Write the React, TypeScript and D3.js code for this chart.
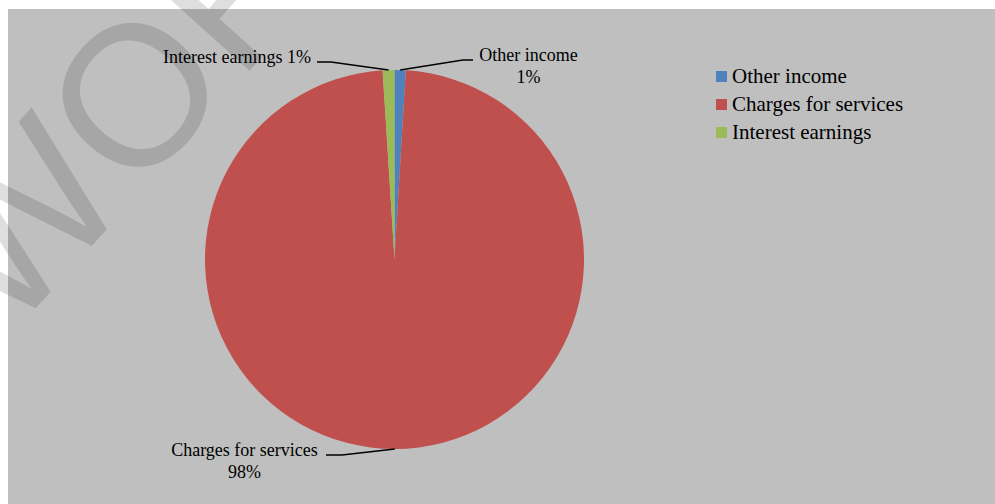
import { useEffect, useRef } from "react";
import * as d3 from "d3";

// data
const categories = ["Other income", "Charges for services", "Interest earnings"];
const shares = [0.95, 98.05, 1.0];
const colors = ["#4f81bd", "#c0504d", "#9bbb59"];
const watermark = "WORK";

// where each data label sits (page px): text anchor, line baselines, leader elbow + end
const labelLayout = [
    { x: 528.5, y: 61, anchor: "middle", twoLines: true, elbow: [463, 60], end: [473, 60] },
    { x: 244.5, y: 456, anchor: "middle", twoLines: true, elbow: [342, 455], end: [326, 455] },
    { x: 311, y: 63, anchor: "end", twoLines: false, elbow: [331, 62], end: [317, 62] },
];

const serif = "'Liberation Serif', 'Times New Roman', serif";

export default function App() {
    const ref = useRef<SVGSVGElement>(null);

    useEffect(() => {
        const width = 995;
        const height = 504;
        const svg = d3.select(ref.current);
        svg.selectAll("*").remove();

        svg.append("rect")
            .attr("x", 8)
            .attr("y", 9)
            .attr("width", width - 8)
            .attr("height", height - 9)
            .attr("fill", "#bfbfbf");

        const cx = 394.5;
        const cy = 259.5;
        const radius = 189.5;
        const total = d3.sum(shares);
        const pct = d3.format(".0%");

        const pie = d3.pie<number>().sort(null).value(d => d);
        const arcs = pie(shares);
        const arc = d3.arc<d3.PieArcDatum<number>>().innerRadius(0).outerRadius(radius);

        const g = svg.append("g").attr("transform", `translate(${cx},${cy})`);
        g.selectAll("path")
            .data(arcs)
            .join("path")
            .attr("d", arc)
            .attr("fill", (d, i) => colors[i]);

        // leader lines + labels
        arcs.forEach((d, i) => {
            const L = labelLayout[i];
            const mid = (d.startAngle + d.endAngle) / 2;
            const start: [number, number] = [cx + Math.sin(mid) * radius, cy - Math.cos(mid) * radius];
            svg.append("path")
                .attr("d", d3.line()([start, L.elbow as [number, number], L.end as [number, number]]))
                .attr("fill", "none")
                .attr("stroke", "#000")
                .attr("stroke-width", 1.5);

            const label = pct(d.value / total);
            const lines = L.twoLines ? [categories[i], label] : [`${categories[i]} ${label}`];
            const t = svg.append("text")
                .attr("font-family", serif)
                .attr("font-size", 18)
                .attr("fill", "#000")
                .attr("text-anchor", L.anchor);
            lines.forEach((s, k) => {
                t.append("tspan").attr("x", L.x).attr("y", L.y + k * 22).text(s);
            });
        });

        // legend
        const legend = svg.append("g").attr("transform", "translate(716,71)");
        categories.forEach((c, i) => {
            legend.append("rect")
                .attr("x", 0)
                .attr("y", i * 28)
                .attr("width", 11)
                .attr("height", 11)
                .attr("fill", colors[i]);
            legend.append("text")
                .attr("x", 16)
                .attr("y", i * 28 + 12)
                .attr("font-family", serif)
                .attr("font-size", 21)
                .attr("fill", "#000")
                .text(c);
        });

        // watermark over everything (runs off the page like the original)
        svg.append("text")
            .attr("transform", "translate(8,339) rotate(-48)")
            .attr("font-family", "'Liberation Sans', Arial, sans-serif")
            .attr("font-size", 200)
            .attr("fill", "#000")
            .attr("fill-opacity", 0.13)
            .text(watermark);
    }, []);

    return (
        <svg
            ref={ref}
            width={995}
            height={504}
            style={{ position: "absolute", left: 0, top: 0 }}
        />
    );
}
